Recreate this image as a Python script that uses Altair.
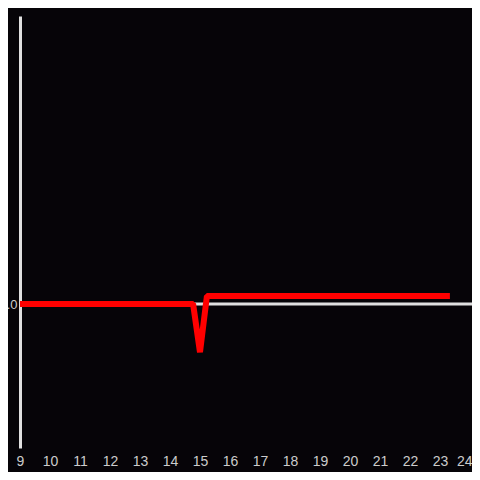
import altair as alt
import pandas as pd

xs = [9.0, 14.77, 15.0, 15.23, 23.33]
ys = [0.0, 0.0, -0.335, 0.055, 0.055]
x_ticks = list(range(9, 25))

df = pd.DataFrame({"x": xs, "y": ys})
zero = pd.DataFrame({"y": [0]})

bg = "#060408"
axis_col = "#e0e0e0"

xscale = alt.Scale(domain=[9, 24], nice=False, zero=False)
yscale = alt.Scale(domain=[-1, 2], nice=False, zero=False)

rule = alt.Chart(zero).mark_rule(color=axis_col, strokeWidth=3, clip=False).encode(
    y=alt.Y("y:Q", scale=yscale,
            axis=alt.Axis(values=[0], title=None, domain=True, domainColor=axis_col,
                          domainWidth=3, ticks=False, grid=False, labelColor="#cccccc",
                          labelFontSize=13, labelFont="Liberation Sans", labelPadding=3)),
    x=alt.value(0),
    x2=alt.value(460),
)

line = alt.Chart(df).mark_line(color="#ff0000", strokeWidth=6, strokeCap="butt",
                               strokeJoin="bevel", clip=False).encode(
    x=alt.X("x:Q", scale=xscale,
            axis=alt.Axis(values=x_ticks, title=None, domain=False, ticks=False, grid=False,
                          labelColor="#cccccc", labelFontSize=14, labelFont="Liberation Sans",
                          labelPadding=6, labelFlush=False,
                          labelAlign={"condition": {"test": "datum.value == 24", "value": "right"},
                                      "value": "center"},
                          labelOffset={"condition": {"test": "datum.value == 24", "value": 2},
                                       "value": 0})),
    y=alt.Y("y:Q", scale=yscale),
    order=alt.Order("x:Q"),
)

chart = alt.layer(rule, line).properties(
    width=450, height=432,
    background=bg,
    padding={"left": 12, "top": 8, "right": 2, "bottom": 24},
    autosize=alt.AutoSizeParams(type="none"),
).configure_view(stroke=None)

chart.save("out.html", embed_options={"renderer": "svg", "actions": False})
